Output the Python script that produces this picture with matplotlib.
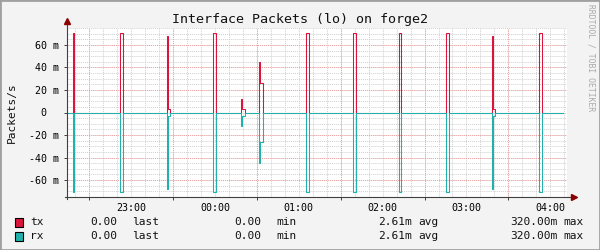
import numpy as np
import matplotlib
matplotlib.use('Agg')
import matplotlib.pyplot as plt
from matplotlib.patches import Rectangle

# minutes after 22:00
x_start, x_end, data_end = 14.0, 372.0, 369.0
spike_start = [18.3, 52.0, 85.3, 86.2, 118.5, 138.6, 139.5, 151.2, 152.1,
               185.1, 219.0, 251.7, 285.6, 318.3, 319.2, 352.2]
spike_width = [1.0, 1.9, 0.9, 1.6, 1.9, 0.9, 1.7, 0.9, 1.9,
               1.9, 1.9, 1.3, 1.9, 1.2, 1.6, 1.9]
tx_mpps = [71, 71, 68, 3, 71, 12, 3, 45, 26, 71, 71, 71, 71, 68, 3, 71]
rx_mpps = [-71, -71, -68, -3, -71, -12, -3, -45, -26, -71, -71, -71, -71, -68, -3, -71]

hour_ticks = [60, 120, 180, 240, 300, 360]
hour_labels = ['23:00', '00:00', '01:00', '02:00', '03:00', '04:00']
y_ticks = [-60, -40, -20, 0, 20, 40, 60]
y_labels = ['-60 m', '-40 m', '-20 m', '0  ', '20 m', '40 m', '60 m']

series_names = ['tx', 'rx']
series_colors = ['#DC143C', '#20B2AA']
stat_names = ['last', 'min', 'avg', 'max']
tx_stats = ['0.00', '0.00', '2.61m', '320.00m']
rx_stats = ['0.00', '0.00', '2.61m', '320.00m']


def step_series(starts, widths, vals):
    t, v = [x_start], [0.0]
    for i, (s, w, val) in enumerate(zip(starts, widths, vals)):
        t.append(s)
        v.append(val)
        nxt = starts[i + 1] if i + 1 < len(starts) else None
        if nxt is None or abs(nxt - (s + w)) > 1e-6:
            t.append(s + w)
            v.append(0.0)
    t.append(data_end)
    v.append(0.0)
    return np.array(t), np.array(v)


# make adjacent segments touch exactly
for i in range(len(spike_start) - 1):
    if spike_start[i + 1] - spike_start[i] < 1.0:
        spike_width[i] = spike_start[i + 1] - spike_start[i]

mono = 'DejaVu Sans Mono'
fig = plt.figure(figsize=(6, 2.5), dpi=100, facecolor='#F3F3F3')
ax = fig.add_axes([67 / 600, 53 / 250, 500 / 600, 169 / 250])
ax.set_facecolor('white')
ax.set_xlim(x_start, x_end)
ax.set_ylim(-75, 75)

# grid
for m in np.arange(20, x_end, 10):
    ax.axvline(m, color='#D0D0D0', lw=0.7, ls=(0, (1, 1)), zorder=1)
for y in np.arange(-75, 76, 5):
    ax.axhline(y, color='#D0D0D0', lw=0.7, ls=(0, (1, 1)), zorder=1)
for m in np.arange(30, x_end, 60):
    ax.axvline(m, color='#F0A0A0', lw=0.7, ls=(0, (1, 1)), zorder=1.5)
for y in y_ticks:
    if y != 0:
        ax.axhline(y, color='#F0A0A0', lw=0.7, ls=(0, (1, 1)), zorder=1.5)

t, v = step_series(spike_start, spike_width, tx_mpps)
ax.step(t, v, where='post', color=series_colors[0], lw=0.75, zorder=3, snap=True)
t, v = step_series(spike_start, spike_width, rx_mpps)
ax.step(t, v, where='post', color=series_colors[1], lw=0.75, zorder=3.5, snap=True)

for s in ax.spines.values():
    s.set_visible(False)
ax.plot([0, 0], [-0.012, 1.035], transform=ax.transAxes, color='#404040', lw=0.8, clip_on=False, zorder=4)
ax.plot([-0.004, 1.012], [0, 0], transform=ax.transAxes, color='#404040', lw=0.8, clip_on=False, zorder=4)
ax.plot([0], [1.04], transform=ax.transAxes, marker='^', color='#8B0000', ms=4.5, clip_on=False, zorder=5)
ax.plot([1.014], [0], transform=ax.transAxes, marker='>', color='#8B0000', ms=4.5, clip_on=False, zorder=5)

ax.set_xticks(hour_ticks)
ax.set_xticklabels(hour_labels, fontfamily=mono, fontsize=7.2)
ax.set_xticks(np.arange(30, x_end, 60), minor=True)
ax.tick_params(axis='x', which='major', length=0, pad=4)
ax.tick_params(axis='x', which='minor', length=2.5, width=0.7, color='#404040', direction='out')
ax.set_yticks(y_ticks)
ax.set_yticklabels(y_labels, fontfamily=mono, fontsize=7.2)
ax.tick_params(axis='y', length=2, width=0.7, color='#404040', pad=4)

fig.text(0.5, 1 - 19 / 250, 'Interface Packets (lo) on forge2', ha='center', va='center',
         fontfamily=mono, fontsize=9.6, color='#111111')
fig.text(12 / 600, 1 - 113 / 250, 'Packets/s', rotation=90, ha='center', va='center',
         fontfamily=mono, fontsize=8, color='#111111')
fig.text(591 / 600, 1 - 58 / 250, 'RRDTOOL / TOBI OETIKER', rotation=270, ha='center', va='center',
         fontfamily=mono, fontsize=5.8, color='#AAAAAA')

# legend: value right edge / label left edge, in pixels
value_right = [117, 261, 412, 557]
label_left = [132, 276, 418, 563]
rows = [tx_stats, rx_stats]
for i, (name, col, stats) in enumerate(zip(series_names, series_colors, rows)):
    y = 1 - (222 + 14 * i) / 250
    fig.patches.append(Rectangle((15 / 600, y - 4.5 / 250), 8 / 600, 9 / 250, transform=fig.transFigure,
                                 facecolor=col, edgecolor='black', lw=0.8))
    fig.text(30 / 600, y, name, ha='left', va='center', fontfamily=mono, fontsize=8, color='#111111')
    for val, lab, xr, xl in zip(stats, stat_names, value_right, label_left):
        fig.text(xr / 600, y, val, ha='right', va='center', fontfamily=mono, fontsize=8, color='#111111')
        fig.text(xl / 600, y, lab, ha='left', va='center', fontfamily=mono, fontsize=8, color='#111111')

# outer frame
fig.patches.append(Rectangle((0, 0), 1, 1, transform=fig.transFigure, fill=False,
                             edgecolor='#A0A0A0', lw=2))

fig.savefig('out.png', dpi=100, facecolor=fig.get_facecolor())
